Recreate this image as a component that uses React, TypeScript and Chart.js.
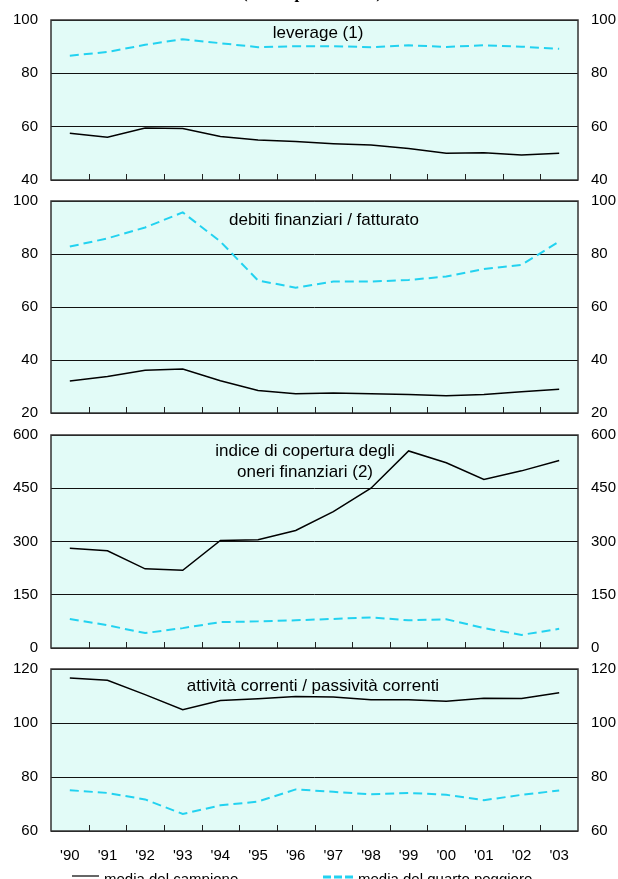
import { useEffect, useRef } from "react";
import { Chart, registerables } from "chart.js";

Chart.register(...registerables);

// ---------- data ----------
const years = ["'90", "'91", "'92", "'93", "'94", "'95", "'96", "'97", "'98", "'99", "'00", "'01", "'02", "'03"];

const leverageSample = [57.5, 56.0, 59.5, 59.3, 56.3, 55.0, 54.4, 53.6, 53.1, 51.8, 50.0, 50.2, 49.4, 50.0];
const leverageWorst = [86.6, 88.0, 90.7, 92.8, 91.3, 89.8, 90.2, 90.2, 89.8, 90.5, 89.9, 90.5, 90.0, 89.2];

const debtSample = [32.1, 33.8, 36.1, 36.6, 32.2, 28.5, 27.3, 27.5, 27.3, 27.0, 26.5, 27.0, 28.0, 29.0];
const debtWorst = [82.8, 85.9, 90.0, 95.7, 84.7, 70.0, 67.3, 69.6, 69.6, 70.2, 71.5, 74.3, 75.9, 84.7];

const coverSample = [281, 274, 223, 219, 303, 305, 331, 384, 450, 555, 522, 475, 499, 528];
const coverWorst = [82, 64, 42, 56, 73, 75, 78, 82, 86, 78, 81, 56, 37, 54];

const currentSample = [116.7, 115.8, 110.5, 104.9, 108.3, 109.0, 109.8, 109.6, 108.6, 108.6, 108.1, 109.2, 109.1, 111.2];
const currentWorst = [75.1, 74.1, 71.7, 66.3, 69.5, 70.9, 75.4, 74.5, 73.6, 74.1, 73.4, 71.4, 73.4, 75.0];

const panelTitles = [
  ["leverage (1)"],
  ["debiti finanziari / fatturato"],
  ["indice di copertura degli", "oneri finanziari (2)"],
  ["attività correnti / passività correnti"],
];
const yMins = [40, 20, 0, 60];
const yMaxs = [100, 100, 600, 120];
const ySteps = [20, 20, 150, 20];

const headerText = "(valori percentuali)";
const legendLabels = ["media del campione", "media del quarto peggiore"];

const sampleSeries = [leverageSample, debtSample, coverSample, currentSample];
const worstSeries = [leverageWorst, debtWorst, coverWorst, currentWorst];

// ---------- styles ----------
const FONT = "'Liberation Sans', Arial, Helvetica, sans-serif";
const BG = "#e2fbf7";
const CYAN = "#22d2f0";
const FRAME = "#333333";
const GRID = "#111111";

type Layout = {
  top: number;
  height: number;
  padTop: number;
  padBottom: number;
  titleX: number;
  titleY: number[];
  showX: boolean;
};

const layouts: Layout[] = [
  { top: 0, height: 192, padTop: 20, padBottom: 12, titleX: 318, titleY: [33], showX: false },
  { top: 185, height: 240, padTop: 16, padBottom: 12, titleX: 324, titleY: [220], showX: false },
  { top: 420, height: 240, padTop: 15, padBottom: 12, titleX: 305, titleY: [451, 472], showX: false },
  { top: 650, height: 229, padTop: 19, padBottom: 18, titleX: 313, titleY: [686], showX: true },
];

const decoPlugin = {
  id: "panelDeco",
  beforeDraw(chart: any) {
    const { ctx, chartArea: a } = chart;
    ctx.save();
    ctx.fillStyle = BG;
    ctx.fillRect(a.left, a.top, a.right - a.left, a.bottom - a.top);
    ctx.restore();
  },
  afterDraw(chart: any, _args: any, opts: any) {
    const { ctx, chartArea: a } = chart;
    const xs = chart.scales.x;
    ctx.save();
    // frame
    ctx.strokeStyle = FRAME;
    ctx.lineWidth = 1.5;
    ctx.strokeRect(a.left, a.top, a.right - a.left, a.bottom - a.top);
    // inner tick marks between categories
    ctx.strokeStyle = "#222";
    ctx.lineWidth = 1;
    for (let i = 1; i < years.length; i++) {
      const x = Math.round((xs.getPixelForValue(i - 1) + xs.getPixelForValue(i)) / 2) + 0.5;
      ctx.beginPath();
      ctx.moveTo(x, a.bottom);
      ctx.lineTo(x, a.bottom - 6);
      ctx.stroke();
    }
    // titles
    ctx.fillStyle = "#000";
    ctx.font = `17px ${FONT}`;
    ctx.textAlign = "center";
    ctx.textBaseline = "middle";
    const L: Layout = opts.layout;
    opts.lines.forEach((t: string, i: number) => {
      ctx.fillText(t, L.titleX, L.titleY[i] - L.top);
    });
    // header (first panel)
    if (opts.header) {
      ctx.font = `bold 17px 'Liberation Serif', 'Times New Roman', serif`;
      ctx.textBaseline = "alphabetic";
      ctx.fillText(opts.header, 312, -2);
    }
    // legend (last panel)
    if (opts.legend) {
      const off = L.top;
      ctx.strokeStyle = "#000";
      ctx.lineWidth = 1.2;
      ctx.setLineDash([]);
      ctx.beginPath();
      ctx.moveTo(72, 876 - off);
      ctx.lineTo(99, 876 - off);
      ctx.stroke();
      ctx.strokeStyle = CYAN;
      ctx.lineWidth = 3;
      ctx.setLineDash([8, 3]);
      ctx.beginPath();
      ctx.moveTo(323, 877 - off);
      ctx.lineTo(356, 877 - off);
      ctx.stroke();
      ctx.setLineDash([]);
      ctx.fillStyle = "#000";
      ctx.font = `15px ${FONT}`;
      ctx.textAlign = "left";
      ctx.textBaseline = "alphabetic";
      ctx.fillText(opts.legend[0], 104, 883.5 - off);
      ctx.fillText(opts.legend[1], 358, 883.5 - off);
    }
    ctx.restore();
  },
};

function makeConfig(idx: number): any {
  const L = layouts[idx];
  const tickFont = { size: 15, family: FONT };
  const yCommon = {
    min: yMins[idx],
    max: yMaxs[idx],
    ticks: { stepSize: ySteps[idx], color: "#000", font: tickFont, padding: 13 },
    border: { display: false },
  };
  const xScale: any = {
    type: "category",
    offset: true,
    display: L.showX,
    grid: { display: false, drawTicks: false },
    border: { display: false },
    ticks: { color: "#000", font: tickFont, padding: 16, maxRotation: 0, autoSkip: false },
  };
  if (L.showX) {
    xScale.afterFit = (s: any) => {
      s.height = 30;
      s.paddingLeft = 0;
      s.paddingRight = 0;
    };
  }
  const fitY = (w: number) => (s: any) => {
    s.width = w;
    s.paddingTop = 0;
    s.paddingBottom = 0;
  };
  return {
    type: "line",
    data: {
      labels: years,
      datasets: [
        {
          label: legendLabels[1],
          data: worstSeries[idx],
          borderColor: CYAN,
          borderWidth: 2,
          borderDash: [9, 5],
          pointRadius: 0,
          tension: 0,
          fill: false,
          yAxisID: "y",
        },
        {
          label: legendLabels[0],
          data: sampleSeries[idx],
          borderColor: "#000",
          borderWidth: 1.5,
          pointRadius: 0,
          tension: 0,
          fill: false,
          yAxisID: "y",
        },
      ],
    },
    options: {
      animation: false,
      responsive: false,
      maintainAspectRatio: false,
      events: [],
      layout: { padding: { top: L.padTop, bottom: L.padBottom, left: 0, right: 0 } },
      plugins: {
        legend: { display: false },
        title: { display: false },
        tooltip: { enabled: false },
        panelDeco: {
          layout: L,
          lines: panelTitles[idx],
          header: idx === 0 ? headerText : null,
          legend: idx === 3 ? legendLabels : null,
        },
      },
      scales: {
        x: xScale,
        y: {
          ...yCommon,
          position: "left",
          grid: { color: GRID, lineWidth: 1, drawTicks: false },
          afterFit: fitY(51),
        },
        y2: {
          ...yCommon,
          position: "right",
          grid: { display: false, drawTicks: false },
          afterFit: fitY(40),
        },
      },
    },
    plugins: [decoPlugin],
  };
}

function Panel({ idx }: { idx: number }) {
  const ref = useRef<HTMLCanvasElement | null>(null);
  const L = layouts[idx];
  useEffect(() => {
    if (!ref.current) return;
    const chart = new Chart(ref.current, makeConfig(idx));
    return () => chart.destroy();
  }, [idx]);
  return (
    <canvas
      ref={ref}
      width={618}
      height={L.height}
      style={{ position: "absolute", left: 0, top: L.top, width: 618, height: L.height }}
    />
  );
}

export default function App() {
  return (
    <div
      style={{
        position: "absolute",
        left: 0,
        top: 0,
        width: 618,
        height: 879,
        background: "#fff",
        overflow: "hidden",
      }}
    >
      {layouts.map((_, i) => (
        <Panel key={i} idx={i} />
      ))}
    </div>
  );
}
